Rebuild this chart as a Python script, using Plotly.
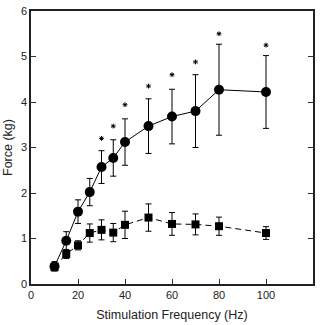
import plotly.graph_objects as go

freq = [10, 15, 20, 25, 30, 35, 40, 50, 60, 70, 80, 100]
circle_force = [0.39, 0.95, 1.59, 2.02, 2.57, 2.77, 3.12, 3.47, 3.68, 3.80, 4.27, 4.22]
circle_err = [0.10, 0.20, 0.26, 0.30, 0.36, 0.40, 0.51, 0.60, 0.60, 0.80, 1.00, 0.80]
square_force = [0.37, 0.66, 0.85, 1.12, 1.19, 1.13, 1.30, 1.46, 1.32, 1.31, 1.27, 1.12]
square_err = [0.08, 0.10, 0.10, 0.20, 0.22, 0.20, 0.30, 0.30, 0.25, 0.23, 0.20, 0.14]
star_freq = [30, 35, 40, 50, 60, 70, 80, 100]
star_y = [3.20, 3.47, 3.94, 4.35, 4.60, 4.88, 5.50, 5.25]

fig = go.Figure()
fig.add_trace(go.Scatter(
    x=freq, y=square_force, mode="lines+markers",
    line=dict(color="black", width=1, dash="6px,4px"),
    marker=dict(symbol="square", size=8, color="black"),
    error_y=dict(type="data", array=square_err, color="black", thickness=1, width=3),
))
fig.add_trace(go.Scatter(
    x=freq, y=circle_force, mode="lines+markers",
    line=dict(color="black", width=1),
    marker=dict(symbol="circle", size=10, color="black"),
    error_y=dict(type="data", array=circle_err, color="black", thickness=1, width=3),
))
fig.add_trace(go.Scatter(
    x=star_freq, y=star_y, mode="markers",
    marker=dict(symbol="asterisk-open", size=4, color="black", line=dict(color="#222", width=1)),
))

font = dict(family="Liberation Sans, Arial, sans-serif", color="#222222")
fig.update_layout(
    width=322, height=325,
    margin=dict(l=31, r=9, t=5, b=39),
    paper_bgcolor="white", plot_bgcolor="white",
    showlegend=False,
    font=dict(size=11, **font),
)
fig.update_xaxes(
    range=[0, 120], tickvals=[0, 20, 40, 60, 80, 100, 120],
    ticks="inside", ticklen=5, tickwidth=1, tickcolor="#333",
    showline=True, linecolor="#222", linewidth=1.5, mirror=True,
    showgrid=False, zeroline=False,
    title=dict(text="Stimulation Frequency (Hz)", font=dict(size=12.5, **font), standoff=10),
)
fig.update_yaxes(
    range=[0, 6], tickvals=[0, 1, 2, 3, 4, 5, 6],
    ticks="inside", ticklen=5, tickwidth=1, tickcolor="#333",
    showline=True, linecolor="#222", linewidth=1.5, mirror="ticks",
    showgrid=False, zeroline=False,
    title=dict(text="Force (kg)", font=dict(size=12.5, **font), standoff=6),
)
fig.write_html("out.html")
